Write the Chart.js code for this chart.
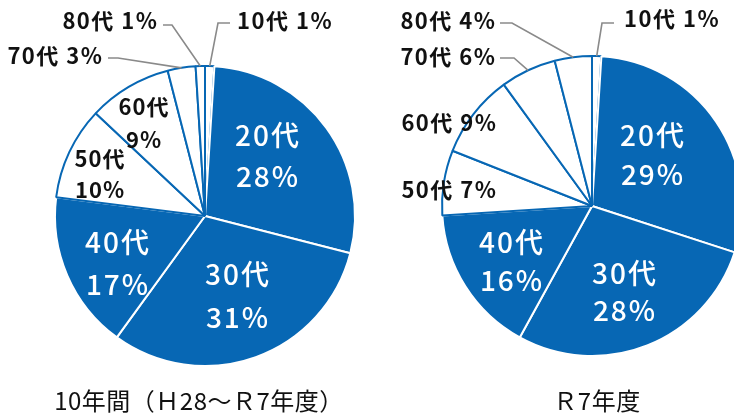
<!DOCTYPE html>
<html>
<head>
<meta charset="utf-8">
<script src="https://cdn.jsdelivr.net/npm/chart.js@4"></script>
<style>
  html, body { margin:0; padding:0; width:734px; height:413px; overflow:hidden; background:#fff; }
  .wrap { position:absolute; }
  .title { position:absolute; font-family:"Noto Sans CJK JP", sans-serif; font-size:24px; letter-spacing:0.5px; color:#111; white-space:nowrap; transform:translate(-50%,-50%); line-height:1; }
</style>
</head>
<body>
<div class="wrap" style="left:0px;top:0px;width:410px;height:432px;"><canvas id="c1" width="410" height="432"></canvas></div>
<div class="wrap" style="left:387px;top:0px;width:410px;height:412px;"><canvas id="c2" width="410" height="412"></canvas></div>
<div class="title" style="left:199px;top:400px;">10年間（Ｈ28～Ｒ7年度）</div>
<div class="title" style="left:597px;top:400px;">Ｒ7年度</div>
<script>
// ---- data ----
const categories = ["10代","20代","30代","40代","50代","60代","70代","80代"];
const valuesTenYears = [1, 28, 31, 17, 10, 9, 3, 1];
const valuesR7 = [1, 29, 28, 16, 7, 9, 6, 4];

// ---- styles ----
const BLUE = "#0767B4";
const fillColors = [ "#ffffff", BLUE, BLUE, BLUE, "#ffffff", "#ffffff", "#ffffff", "#ffffff" ];
const borderColors = fillColors.map(c => c === BLUE ? "#ffffff" : BLUE);
const FONT = '"Noto Sans CJK JP", sans-serif';

// label layouts (offsets relative to pie centre)
const layout1 = [
  {type:"out", dx:32, dy:-195, align:"left", leader:{hx1:25, hx2:13, hy:-193}},
  {type:"in", dx:62, dy:-60, gap:41, color:"#fff"},
  {type:"in", dx:32, dy:80, gap:43, color:"#fff"},
  {type:"in", dx:-88, dy:47, gap:42, color:"#fff"},
  {type:"in2", dx:-105, dy:-41.5, gap:31, color:"#111"},
  {type:"in2", dx:-61, dy:-92.5, gap:33, color:"#111"},
  {type:"out", dx:-103, dy:-160, align:"right", leader:{hx1:-97, hx2:-87, hy:-158}},
  {type:"out", dx:-48, dy:-195, align:"right", leader:{hx1:-42, hx2:-33, hy:-191}}
];
const layout2 = [
  {type:"out", dx:32, dy:-187.5, align:"left", leader:{hx1:22, hx2:10, hy:-183}},
  {type:"in", dx:60, dy:-51.5, gap:39, color:"#fff"},
  {type:"in", dx:32, dy:85.5, gap:37, color:"#fff"},
  {type:"in", dx:-81, dy:55, gap:38, color:"#fff"},
  {type:"out", dx:-96, dy:-16, align:"right"},
  {type:"out", dx:-96, dy:-83, align:"right"},
  {type:"out", dx:-97, dy:-149, align:"right", leader:{hx1:-92, hx2:-78, hy:-148}},
  {type:"out", dx:-97, dy:-185, align:"right", leader:{hx1:-92, hx2:-80, hy:-183}}
];

const labelPlugin = {
  id: "pieLabels",
  afterDatasetsDraw(chart, args, opts) {
    const ctx = chart.ctx;
    const meta = chart.getDatasetMeta(0);
    const data = chart.data.datasets[0].data;
    const lay = opts.layout;
    meta.data.forEach((arc, i) => {
      const p = arc.getProps(["x","y","startAngle","endAngle","outerRadius"], true);
      const cx = p.x, cy = p.y;
      const L = lay[i];
      const name = chart.data.labels[i];
      const pct = data[i] + "%";
      ctx.save();
      ctx.textBaseline = "middle";
      if (L.type === "in") {
        ctx.fillStyle = L.color;
        ctx.font = "500 28px " + FONT;
        ctx.letterSpacing = "2px";
        ctx.textAlign = "center";
        ctx.fillText(name, cx + L.dx + 1, cy + L.dy - L.gap/2);
        ctx.fillText(pct, cx + L.dx + 1, cy + L.dy + L.gap/2);
      } else if (L.type === "in2") {
        ctx.fillStyle = L.color;
        ctx.font = "bold 22px " + FONT;
        ctx.letterSpacing = "1px";
        ctx.textAlign = "center";
        ctx.fillText(name, cx + L.dx, cy + L.dy - L.gap/2);
        ctx.fillText(pct, cx + L.dx, cy + L.dy + L.gap/2);
      } else {
        ctx.fillStyle = "#111";
        ctx.font = "bold 22px " + FONT;
        ctx.letterSpacing = "1.5px";
        ctx.textAlign = L.align;
        const tx = L.align === "right" ? cx + L.dx + 1.5 : cx + L.dx;
        ctx.fillText(name + " " + pct, tx, cy + L.dy);
        ctx.letterSpacing = "0px";
        if (L.leader) {
          const mid = (p.startAngle + p.endAngle) / 2;
          const ex = cx + p.outerRadius * Math.cos(mid);
          const ey = cy + p.outerRadius * Math.sin(mid);
          ctx.strokeStyle = "#8a8a8a";
          ctx.lineWidth = 1.6;
          ctx.beginPath();
          ctx.moveTo(cx + L.leader.hx1, cy + L.leader.hy);
          ctx.lineTo(cx + L.leader.hx2, cy + L.leader.hy);
          ctx.lineTo(ex, ey);
          ctx.stroke();
        }
      }
      ctx.restore();
    });
  }
};

function makePie(id, values, lay) {
  return new Chart(document.getElementById(id), {
    type: "pie",
    data: {
      labels: categories,
      datasets: [{
        data: values,
        backgroundColor: fillColors,
        borderColor: borderColors,
        borderWidth: 2
      }]
    },
    options: {
      responsive: false,
      animation: false,
      devicePixelRatio: 1,
      radius: 150,
      layout: { padding: 0 },
      plugins: {
        legend: { display: false },
        tooltip: { enabled: false },
        pieLabels: { layout: lay }
      }
    },
    plugins: [labelPlugin]
  });
}
makePie("c1", valuesTenYears, layout1);
makePie("c2", valuesR7, layout2);
</script>
</body>
</html>
